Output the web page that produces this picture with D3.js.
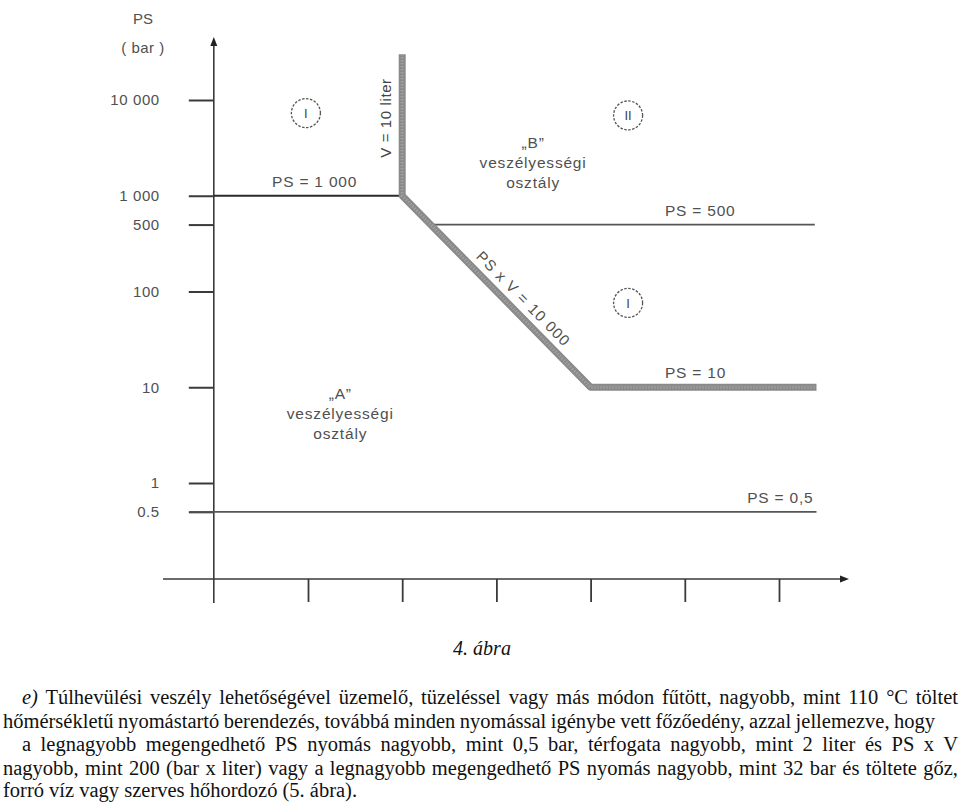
<!DOCTYPE html>
<html>
<head>
<meta charset="utf-8">
<script src="https://cdn.jsdelivr.net/npm/d3@7"></script>
<style>
  html, body { margin: 0; padding: 0; background: #fff; }
  svg { display: block; }
</style>
</head>
<body>
<svg id="chart" width="960" height="803"></svg>
<script>
// ---------------- data ----------------
const yTickValues = [10000, 1000, 500, 100, 10, 1, 0.5];
const yTickLabels = ["10 000", "1 000", "500", "100", "10", "1", "0.5"];
const xTickValues = [1, 10, 100, 1000, 10000, 100000];

// boundary lines (V in liter, PS in bar)
const thickBoundary = [ // V = 10 liter, PS·V = 10 000, PS = 10
  { v: 10, ps: 30000 }, { v: 10, ps: 1000 }, { v: 1000, ps: 10 }, { v: 250000, ps: 10 }
];
const ps1000Line = [{ v: 0.1, ps: 1000 }, { v: 10, ps: 1000 }];
const ps500Line  = [{ v: 20, ps: 500 }, { v: 240000, ps: 500 }];
const ps05Line   = [{ v: 0.055, ps: 0.5 }, { v: 250000, ps: 0.5 }];

const lineLabels = [
  { text: "PS = 1 000", v: 0.415, ps: 1000 },
  { text: "PS = 500",   v: 6150,  ps: 500 },
  { text: "PS = 10",    v: 6150,  ps: 10 },
  { text: "PS = 0,5",   v: 45900, ps: 0.5 }
];
const zoneCircles = [
  { label: "I",  v: 0.95,  ps: 7300 },
  { label: "II", v: 2500,  ps: 6900 },
  { label: "I",  v: 2500,  ps: 76 }
];
const classLabels = [
  { lines: ["\u201EB\u201D", "veszélyességi", "osztály"], v: 245, ps: 3150 },
  { lines: ["\u201EA\u201D", "veszélyességi", "osztály"], v: 2.2, ps: 7.5 }
];
const captionText = "4. ábra";
const paragraphLines = [
  { pre: "e)", text: " Túlhevülési veszély lehetőségével üzemelő, tüzeléssel vagy más módon fűtött, nagyobb, mint 110 °C töltet" },
  { text: "hőmérsékletű nyomástartó berendezés, továbbá minden nyomással igénybe vett főzőedény, azzal jellemezve, hogy" },
  { text: "a legnagyobb megengedhető PS nyomás nagyobb, mint 0,5 bar, térfogata nagyobb, mint 2 liter és PS x V" },
  { text: "nagyobb, mint 200 (bar x liter) vagy a legnagyobb megengedhető PS nyomás nagyobb, mint 32 bar és töltete gőz," },
  { text: "forró víz vagy szerves hőhordozó (5. ábra)." }
];

// ---------------- drawing ----------------
const svg = d3.select("#chart");
const x = d3.scaleLog().domain([1, 100000]).range([308, 779]);
const y = d3.scaleLog().domain([1, 10000]).range([483, 100]);

const textFont = "'Liberation Sans', Arial, sans-serif";
const textColor = "#505050";
const axisColor = "#3a3a3a";

const line = d3.line().x(d => x(d.v)).y(d => y(d.ps));

// y axis line with arrow
const yAxisX = x(0.1);
const xAxisY = 579;
svg.append("line").attr("x1", yAxisX).attr("x2", yAxisX).attr("y1", 44).attr("y2", 603)
  .attr("stroke", axisColor).attr("stroke-width", 1.6);
svg.append("path").attr("d", `M${yAxisX},37 L${yAxisX-3.5},46 L${yAxisX+3.5},46 Z`).attr("fill", "#222");

// x axis line with arrow
svg.append("line").attr("x1", 163).attr("x2", 842).attr("y1", xAxisY).attr("y2", xAxisY)
  .attr("stroke", axisColor).attr("stroke-width", 1.6);
svg.append("path").attr("d", `M849,${xAxisY} L840,${xAxisY-3.5} L840,${xAxisY+3.5} Z`).attr("fill", "#222");

// y axis ticks and labels
const yAxis = d3.axisLeft(y).tickValues(yTickValues).tickSize(25).tickPadding(29)
  .tickFormat((d, i) => yTickLabels[i]);
const gy = svg.append("g").attr("transform", `translate(${yAxisX},0)`).call(yAxis);
gy.select(".domain").remove();
gy.selectAll(".tick line").attr("stroke", axisColor).attr("stroke-width", 2);
gy.selectAll(".tick text").attr("fill", textColor).style("font-family", textFont)
  .style("font-size", "15px").style("letter-spacing", "0.6px");

// x axis ticks (no labels)
const xAxis = d3.axisBottom(x).tickValues(xTickValues).tickSize(23).tickFormat("");
const gx = svg.append("g").attr("transform", `translate(0,${xAxisY})`).call(xAxis);
gx.select(".domain").remove();
gx.selectAll(".tick line").attr("stroke", axisColor).attr("stroke-width", 1.8);

// axis title
svg.append("text").attr("x", 143).attr("y", 24).attr("text-anchor", "middle")
  .attr("fill", textColor).style("font-family", textFont).style("font-size", "15px").text("PS");
svg.append("text").attr("x", 143).attr("y", 53).attr("text-anchor", "middle")
  .attr("fill", textColor).style("font-family", textFont).style("font-size", "15px")
  .style("letter-spacing", "0.5px").text("( bar )");

// thin boundary lines
svg.append("path").attr("d", line(ps1000Line)).attr("fill", "none").attr("stroke", "#2a2a2a").attr("stroke-width", 2);
svg.append("path").attr("d", line(ps500Line)).attr("fill", "none").attr("stroke", "#555").attr("stroke-width", 1.8);
svg.append("path").attr("d", line(ps05Line)).attr("fill", "none").attr("stroke", "#555").attr("stroke-width", 1.8);

// thick boundary
svg.append("path").attr("d", line(thickBoundary)).attr("fill", "none")
  .attr("stroke", "#8a8a8a").attr("stroke-width", 7).attr("stroke-linejoin", "round");
svg.append("path").attr("d", line(thickBoundary)).attr("fill", "none")
  .attr("stroke", "#a8a8a8").attr("stroke-width", 3).attr("stroke-dasharray", "1 2")
  .attr("stroke-linejoin", "round");

// line labels
svg.selectAll("text.lineLabel").data(lineLabels).enter().append("text")
  .attr("class", "lineLabel")
  .attr("x", d => x(d.v)).attr("y", d => y(d.ps) - 9)
  .attr("fill", textColor).style("font-family", textFont).style("font-size", "15.5px")
  .style("letter-spacing", "0.8px").text(d => d.text);

// V = 10 liter (vertical)
svg.append("text")
  .attr("transform", `translate(${x(10) - 11},${y(6490)}) rotate(-90)`)
  .attr("text-anchor", "middle").attr("fill", "#444")
  .style("font-family", textFont).style("font-size", "15px").style("letter-spacing", "0.6px")
  .text("V = 10 liter");

// PS x V = 10 000 (diagonal)
{
  const p1 = [x(10), y(1000)], p2 = [x(1000), y(10)];
  const ang = Math.atan2(p2[1] - p1[1], p2[0] - p1[0]) * 180 / Math.PI;
  const mid = [x(10 ** 2.18), y(10 ** 1.82)];
  svg.append("text")
    .attr("transform", `translate(${mid[0]},${mid[1]}) rotate(${ang}) translate(0,-9)`)
    .attr("text-anchor", "middle").attr("fill", textColor)
    .style("font-family", textFont).style("font-size", "15px").style("letter-spacing", "1.2px")
    .text("PS x V = 10 000");
}

// zone circles
const zc = svg.selectAll("g.zone").data(zoneCircles).enter().append("g")
  .attr("class", "zone").attr("transform", d => `translate(${x(d.v)},${y(d.ps)})`);
zc.append("circle").attr("r", 14.5).attr("fill", "none").attr("stroke", "#555")
  .attr("stroke-width", 1.3).attr("stroke-dasharray", "2.5 1.5");
zc.append("text").attr("text-anchor", "middle").attr("dy", "0.36em").attr("fill", "#444")
  .style("font-family", textFont).style("font-size", "13px").text(d => d.label);

// class labels
const cl = svg.selectAll("g.cls").data(classLabels).enter().append("g")
  .attr("class", "cls").attr("transform", d => `translate(${x(d.v)},${y(d.ps)})`);
cl.each(function(d) {
  const g = d3.select(this);
  d.lines.forEach((t, i) => {
    g.append("text").attr("x", 0).attr("y", i * 20).attr("text-anchor", "middle")
      .attr("fill", textColor).style("font-family", textFont).style("font-size", "15.5px")
      .style("letter-spacing", "0.8px").text(t);
  });
});

// caption
const serif = "'Liberation Serif', 'Times New Roman', serif";
svg.append("text").attr("x", 482).attr("y", 655).attr("text-anchor", "middle")
  .attr("fill", "#111").style("font-family", serif)
  .style("font-size", "20px").style("font-style", "italic").text(captionText);

// paragraph
const lineStarts = [22, 3, 22, 3, 3];
const lineEnds = [958, 935, 958, 958, null];
const baselines = [704, 728, 751, 775, 797];
paragraphLines.forEach((L, i) => {
  const t = svg.append("text")
    .attr("x", lineStarts[i]).attr("y", baselines[i])
    .attr("fill", "#111").style("font-family", serif).style("font-size", "20.5px")
    .attr("xml:space", "preserve").style("white-space", "pre");
  if (L.pre) t.append("tspan").style("font-style", "italic").text(L.pre);
  t.append("tspan").text(L.text);
  if (lineEnds[i] !== null) {
    const target = lineEnds[i] - lineStarts[i];
    const natural = t.node().getComputedTextLength();
    const full = (L.pre || "") + L.text;
    const spaces = (full.match(/ /g) || []).length;
    if (spaces > 0) t.style("word-spacing", ((target - natural) / spaces) + "px");
  }
});
</script>
</body>
</html>
